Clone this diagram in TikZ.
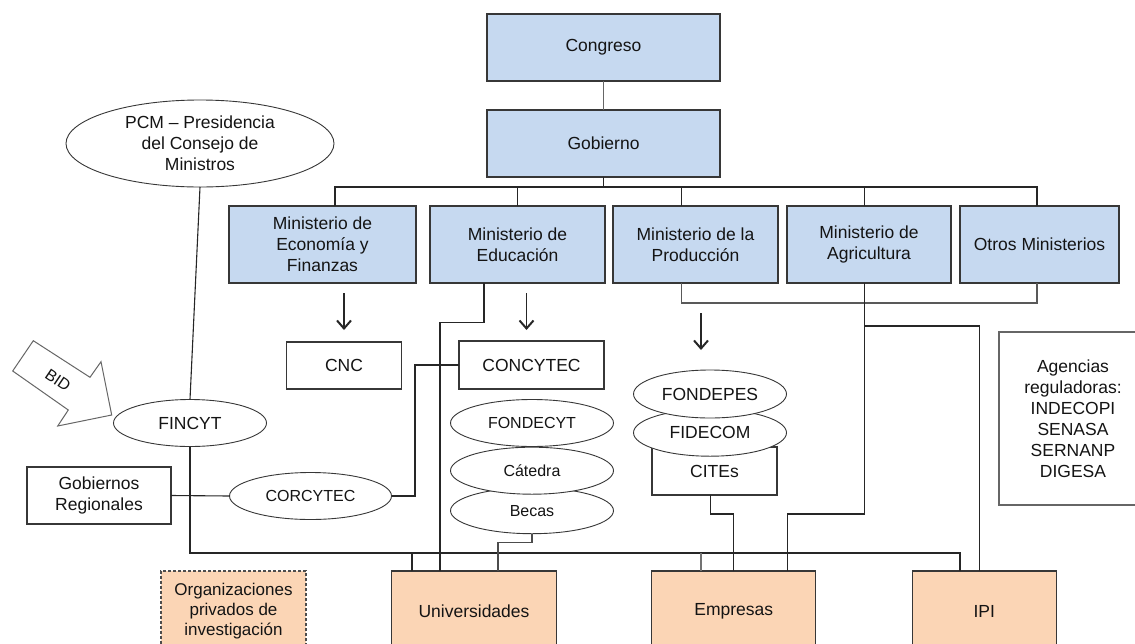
\documentclass[tikz,border=0pt]{standalone}
\usepackage{fontspec}
\setmainfont{Liberation Sans}
\usetikzlibrary{shapes.geometric,arrows.meta}
\definecolor{minblue}{RGB}{198,217,240}
\definecolor{peach}{RGB}{251,213,181}
\definecolor{edgec}{RGB}{55,55,55}
\definecolor{txtc}{RGB}{20,20,20}
\begin{document}
\begin{tikzpicture}[x=1pt,y=-1pt,
  basebox/.style={draw=edgec, line width=1.2pt, inner sep=0pt, outer sep=0pt, align=center, text=txtc, font=\fontsize{17.5}{21}\selectfont},
  minbox/.style={basebox, fill=minblue},
  whitebox/.style={basebox, fill=white},
  peachbox/.style={basebox, fill=peach},
  ell/.style={ellipse, draw=edgec, line width=0.9pt, fill=white, inner sep=0pt, outer sep=0pt, align=center, text=txtc, font=\fontsize{17.5}{21}\selectfont},
  smallell/.style={ell, font=\fontsize{16}{19}\selectfont},
  conn/.style={draw=black!85, line width=1.1pt},
  arr/.style={conn, -{Straight Barb[length=8pt,width=14pt,line width=2pt]}}
]
\useasboundingbox (0,0) rectangle (1135,643);
\clip (0,0) rectangle (1135,643);

% top hierarchy
\node[minbox, minimum width=233, minimum height=67] (cong) at (603.5,47.5) {Congreso};
\node[minbox, minimum width=233, minimum height=67] (gob) at (603.5,143.5) {Gobierno};
\node[minbox, minimum width=187, minimum height=77] (mef) at (322.5,244.5) {Ministerio de\\Economía y\\Finanzas};
\node[minbox, minimum width=175, minimum height=77] (medu) at (517.5,244.5) {Ministerio de\\Educación};
\node[minbox, minimum width=165, minimum height=77] (mprod) at (695.5,244.5) {Ministerio de la\\Producción};
\node[minbox, minimum width=164, minimum height=77] (magr) at (869,244.5) {Ministerio de\\Agricultura};
\node[minbox, minimum width=159, minimum height=77] (motros) at (1039.5,244.5) {Otros Ministerios};

% left side
\node[ell, minimum width=268, minimum height=87] (pcm) at (200,143.5) {PCM – Presidencia\\del Consejo de\\Ministros};
\node[ell, minimum width=153, minimum height=47] (fincyt) at (190,423) {FINCYT};
\node[whitebox, minimum width=144, minimum height=57] (gobreg) at (99,495.5) {Gobiernos\\Regionales};
\node[smallell, minimum width=162, minimum height=47] (corcytec) at (310.5,496) {CORCYTEC};

% BID block arrow
\draw[draw=black!60, line width=1pt, fill=white]
  (33.3,340.7) -- (90,377.3) -- (101,361.7) -- (111.7,415) -- (57.7,426) -- (68.3,410) -- (12.7,371) -- cycle;
\node[text=txtc, font=\fontsize{16}{19}\selectfont, rotate=-34] (bid) at (58,380) {BID};

% middle
\node[whitebox, minimum width=115, minimum height=47] (cnc) at (344,365.5) {CNC};
\node[whitebox, minimum width=145, minimum height=48] (concytec) at (531.5,365) {CONCYTEC};
\node[smallell, minimum width=163, minimum height=46] (becas) at (532,510.7) {Becas};
\node[smallell, minimum width=163, minimum height=47] (catedra) at (532,470.7) {Cátedra};
\node[smallell, minimum width=163, minimum height=47] (fondecyt) at (532,423) {FONDECYT};

% production side
\node[whitebox, minimum width=125, minimum height=48] (cites) at (714.5,471) {CITEs};
\node[ell, minimum width=153, minimum height=47] (fidecom) at (710,432.7) {FIDECOM};
\node[ell, minimum width=153, minimum height=48] (fondepes) at (710,394) {FONDEPES};

% agencies
\node[whitebox, draw=black!60, minimum width=148, minimum height=173] (agencias) at (1073,418.5) {Agencias\\reguladoras:\\INDECOPI\\SENASA\\SERNANP\\DIGESA};

% bottom row
\node[peachbox, dashed, dash pattern=on 3pt off 2pt, draw=black!70, minimum width=145, minimum height=80, font=\fontsize{17}{20}\selectfont] (org) at (233.5,611) {Organizaciones\\privados de\\investigación};
\node[peachbox, minimum width=165, minimum height=80] (univ) at (474,611) {Universidades};
\node[peachbox, minimum width=164, minimum height=80] (emp) at (733.8,611) {Empresas};
\node[peachbox, minimum width=144, minimum height=80] (ipi) at (984.3,611) {IPI};

% connectors: top
\coordinate (busL) at (335,187);
\coordinate (busR) at (1037,187);
\draw[conn, draw=black!60] (cong) -- (gob);
\draw[conn] (gob.south) -- (gob.south |- busL);
\draw[conn] (busL |- mef.north) -- (busL) -- (busR) -- (busR |- motros.north);
\draw[conn] (medu.north) -- (medu.north |- busL);
\coordinate (sp) at (681.7,187);
\draw[conn] (sp) -- (sp |- mprod.north);
\coordinate (sa) at (864.3,187);
\draw[conn] (sa) -- (sa |- magr.north);

% arrows
\draw[arr, shorten <=10pt, shorten >=12pt] (mef.south -| cnc.north) -- (cnc.north);
\coordinate (a2) at ([xshift=-5]concytec.north);
\draw[arr, shorten <=10pt, shorten >=11pt] (a2 |- medu.south) -- (a2);
\coordinate (a3) at ([xshift=-9]fondepes.north);
\draw[arr, shorten <=30pt, shorten >=20pt] (a3 |- mprod.south) -- (a3);

% left connectors
\draw[conn] (pcm.south) -- (fincyt.north);
\draw[conn] (gobreg.east) -- (corcytec.west);
\draw[conn] (concytec.west) -- ++(-44,0) |- (corcytec.east);

% lower bus
\coordinate (busB) at (960,553);
\draw[conn] (fincyt.south) |- (busB) -- (busB |- ipi.north);
\coordinate (u1) at ([xshift=-62]univ.north);
\draw[conn] (u1) -- (u1 |- busB);
\coordinate (e1) at ([xshift=-32.8]emp.north);
\draw[conn, draw=black!55] (e1) -- (e1 |- busB);

% education to universities
\draw[conn] ([xshift=-33.5]medu.south) -- ++(0,39.5) -| ([xshift=-34]univ.north);
\draw[conn, draw=black!70] (becas.south) -- ++(0,9) -| ([xshift=24]univ.north);

% production / agriculture
\draw[conn, draw=black!65] ([xshift=-13.8]mprod.south) -- ++(0,20) -| ([xshift=-2.5]motros.south);
\coordinate (agb) at (864.3,514);
\draw[conn] (agb |- magr.south) -- (agb) -| ([xshift=53.5]emp.north);
\coordinate (agi) at (864.3,326);
\draw[conn] (agi) -| ([xshift=-4.8]ipi.north);
\draw[conn] ([xshift=-4.2]cites.south) -- ++(0,19) -| (emp.north);
\end{tikzpicture}
\end{document}
